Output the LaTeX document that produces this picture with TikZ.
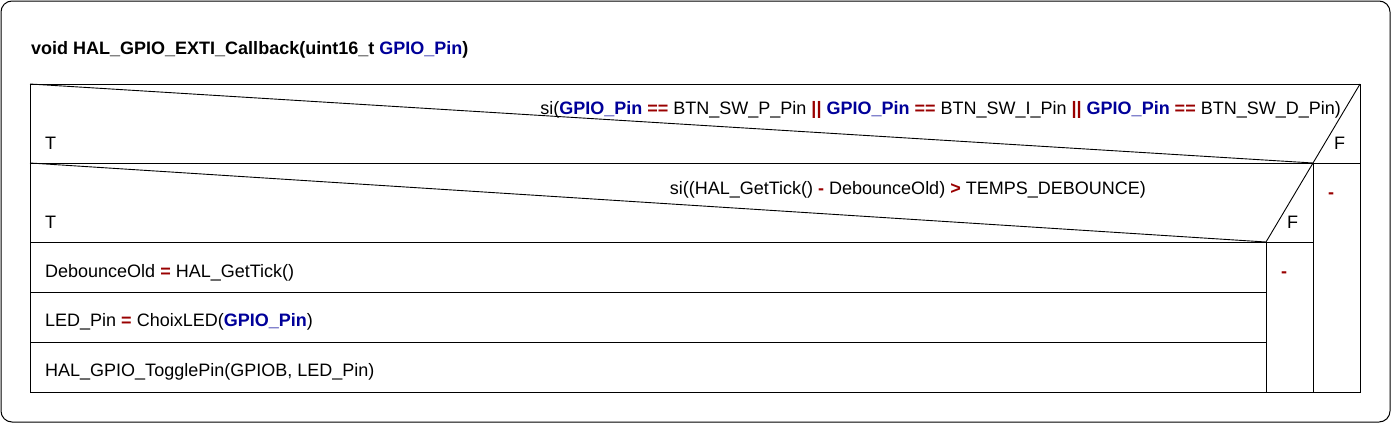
\documentclass[tikz,border=0pt]{standalone}
\usepackage{fontspec}
\setmainfont{Liberation Sans}
\definecolor{kwblue}{HTML}{000099}
\definecolor{opred}{HTML}{990000}
\newcommand{\gpin}{\textcolor{kwblue}{\textbf{GPIO\_Pin}}}
\newcommand{\opr}[1]{\textcolor{opred}{\textbf{#1}}}
\begin{document}
\begin{tikzpicture}[x=1pt,y=-1pt,
  every node/.style={inner sep=0pt, font=\fontsize{18}{21}\selectfont},
  txt/.style={anchor=base west},
  rtxt/.style={anchor=base east},
  frame/.style={line width=1pt, line join=miter},
  diag/.style={line width=0.9pt}]
\useasboundingbox (0,0) rectangle (1391,423);
\draw[frame, rounded corners=11pt] (1,1) rectangle (1390,422);
% corners
\coordinate (tl) at (30,84);
\coordinate (tr) at (1360,84);
\coordinate (bl) at (30,392);
\coordinate (br) at (1360,392);
\coordinate (a1) at (30,163);
\coordinate (a2) at (1313,163);
\coordinate (a3) at (1360,163);
\coordinate (b1) at (30,242);
\coordinate (b2) at (1266,242);
\coordinate (b3) at (1313,242);
\coordinate (c1) at (30,292);
\coordinate (c2) at (1266,292);
\coordinate (d1) at (30,342);
\coordinate (d2) at (1266,342);
\coordinate (e2) at (1266,392);
\coordinate (e3) at (1313,392);
\draw[frame] (tl) rectangle (br);
\draw[frame] (a1) -- (a3);
\draw[frame] (b1) -- (b3);
\draw[frame] (c1) -- (c2);
\draw[frame] (d1) -- (d2);
\draw[frame] (a2) -- (e3);
\draw[frame] (b2) -- (e2);
\draw[diag] (tl) -- (a2) -- (tr);
\draw[diag] (a1) -- (b2) -- (a2);
% texts
\node[txt] (title) at (31,54) {\textbf{void HAL\_GPIO\_EXTI\_Callback(uint16\_t \textcolor{kwblue}{GPIO\_Pin})}};
\node[rtxt] (cond1) at (1341,114) {si(\gpin{} \opr{==} BTN\_SW\_P\_Pin \opr{||} \gpin{} \opr{==} BTN\_SW\_I\_Pin \opr{||} \gpin{} \opr{==} BTN\_SW\_D\_Pin)};
\node[txt] (t1) at (45,149) {T};
\node[txt] (f1) at (1334,149) {F};
\node[rtxt] (cond2) at (1146,194) {si((HAL\_GetTick() \opr{-} DebounceOld) \opr{>} TEMPS\_DEBOUNCE)};
\node[txt] (t2) at (45,228) {T};
\node[txt] (f2) at (1287,228) {F};
\node[txt] (no1) at (1328,198) {\opr{-}};
\node[txt] (no2) at (1281,277) {\opr{-}};
\node[txt] (s1) at (45,277) {DebounceOld \opr{=} HAL\_GetTick()};
\node[txt] (s2) at (45,326) {LED\_Pin \opr{=} ChoixLED(\gpin)};
\node[txt] (s3) at (45,376) {HAL\_GPIO\_TogglePin(GPIOB, LED\_Pin)};
\end{tikzpicture}
\end{document}
